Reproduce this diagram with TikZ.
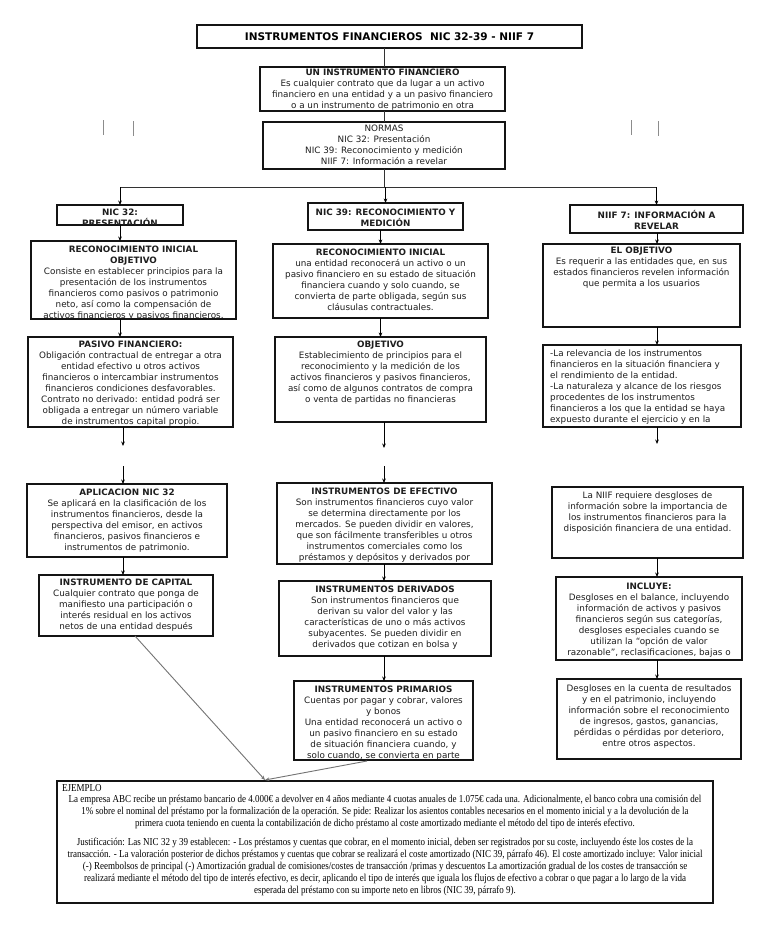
\documentclass[tikz,border=0pt]{standalone}
\usepackage{fontspec}
\setmainfont{DejaVu Sans}
\newfontfamily\exfont[FakeStretch=0.85]{Liberation Serif}
\usetikzlibrary{arrows.meta}
\definecolor{ink}{HTML}{1E1E1E}
\tikzset{
  boxs/.style={draw=black!92, line width=2pt, inner sep=0pt, outer sep=0pt, rectangle},
  txt/.style={inner sep=0pt, align=center, text=ink, font=\fontsize{8.8}{10.9}\selectfont},
  arr/.style={draw=black, -{Stealth[length=4.5pt,width=3.6pt]}, line width=0.8pt},
  ln/.style={draw=black!80, line width=0.8pt},
  tick/.style={draw=black!45, line width=0.8pt},
  gline/.style={draw=black!55, line width=0.9pt, -{Stealth[length=4.5pt,width=3.6pt]}},
}
\newcommand{\mybox}[7]{%
  \node[boxs, minimum width={#4-#2}, minimum height={#5-#3}] (#1) at ({(#2+#4)/2},{(#3+#5)/2}) {};
  \begin{scope}
    \clip ([shift={(1pt,1pt)}]#1.south west) rectangle ([shift={(-1pt,-1pt)}]#1.north east);
    \node[txt, anchor=north] at ({(#2+#4)/2},#6) {#7};
  \end{scope}}
\newcommand{\myboxL}[8]{%
  \node[boxs, minimum width={#4-#2}, minimum height={#5-#3}] (#1) at ({(#2+#4)/2},{(#3+#5)/2}) {};
  \begin{scope}
    \clip ([shift={(1pt,1pt)}]#1.south west) rectangle ([shift={(-1pt,-1pt)}]#1.north east);
    \node[txt, align=left, anchor=north west] at (#6,#7) {#8};
  \end{scope}}
\begin{document}
\begin{tikzpicture}[x=1pt,y=-1pt]
\useasboundingbox[fill=white] (0,0) rectangle (768,932);

% title
\node[boxs, line width=1.3pt, minimum width=385, minimum height=23] (title) at (389.5,36.5) {};
\node[inner sep=0pt, font=\fontsize{10.5}{12}\selectfont\bfseries] at (title.center) {INSTRUMENTOS FINANCIEROS\ \ NIC 32-39 - NIIF 7};

\mybox{inst}{260}{67}{505}{111}{69}{\textbf{UN INSTRUMENTO FINANCIERO}\\Es cualquier contrato que da lugar a un activo\\financiero en una entidad y a un pasivo financiero\\o a un instrumento de patrimonio en otra}
\mybox{normas}{263}{122}{505}{169}{125}{NORMAS\\NIC 32: Presentación\\NIC 39: Reconocimiento y medición\\NIIF 7: Información a revelar}

% column headers
\mybox{nic32}{57}{205}{183}{225}{209}{\textbf{NIC 32:}\\\textbf{PRESENTACIÓN}}
\mybox{nic39}{308}{203}{463}{230}{209}{\textbf{NIC 39: RECONOCIMIENTO Y}\\\textbf{MEDICIÓN}}
\mybox{niif}{570}{205}{743}{233}{210}{\textbf{NIIF 7: INFORMACIÓN A}\\\textbf{REVELAR}}

% left column
\mybox{lA}{31}{241}{236}{319}{246}{\textbf{RECONOCIMIENTO INICIAL}\\\textbf{OBJETIVO}\\Consiste en establecer principios para la\\presentación de los instrumentos\\financieros como pasivos o patrimonio\\neto, así como la compensación de\\activos financieros y pasivos financieros.}
\mybox{lB}{28}{337}{233}{427}{341}{\textbf{PASIVO FINANCIERO:}\\Obligación contractual de entregar a otra\\entidad efectivo u otros activos\\financieros o intercambiar instrumentos\\financieros condiciones desfavorables.\\Contrato no derivado: entidad podrá ser\\obligada a entregar un número variable\\de instrumentos capital propio.}
\mybox{lC}{27}{484}{227}{557}{489}{\textbf{APLICACION NIC 32}\\Se aplicará en la clasificación de los\\instrumentos financieros, desde la\\perspectiva del emisor, en activos\\financieros, pasivos financieros e\\instrumentos de patrimonio.}
\mybox{lD}{39}{575}{213}{636}{579}{\textbf{INSTRUMENTO DE CAPITAL}\\Cualquier contrato que ponga de\\manifiesto una participación o\\interés residual en los activos\\netos de una entidad después}

% middle column
\mybox{mA}{273}{244}{488}{318}{249}{\textbf{RECONOCIMIENTO INICIAL}\\una entidad reconocerá un activo o un\\pasivo financiero en su estado de situación\\financiera cuando y solo cuando, se\\convierta de parte obligada, según sus\\cláusulas contractuales.}
\mybox{mB}{275}{337}{486}{422}{341}{\textbf{OBJETIVO}\\Establecimiento de principios para el\\reconocimiento y la medición de los\\activos financieros y pasivos financieros,\\así como de algunos contratos de compra\\o venta de partidas no financieras}
\mybox{mC}{277}{483}{492}{564}{488}{\textbf{INSTRUMENTOS DE EFECTIVO}\\Son instrumentos financieros cuyo valor\\se determina directamente por los\\mercados. Se pueden dividir en valores,\\que son fácilmente transferibles u otros\\instrumentos comerciales como los\\préstamos y depósitos y derivados por}
\mybox{mD}{279}{581}{491}{656}{586}{\textbf{INSTRUMENTOS DERIVADOS}\\Son instrumentos financieros que\\derivan su valor del valor y las\\características de uno o más activos\\subyacentes. Se pueden dividir en\\derivados que cotizan en bolsa y}
\mybox{mE}{294}{681}{473}{760}{686}{\textbf{INSTRUMENTOS PRIMARIOS}\\Cuentas por pagar y cobrar, valores\\y bonos\\Una entidad reconocerá un activo o\\un pasivo financiero en su estado\\de situación financiera cuando, y\\solo cuando, se convierta en parte}

% right column
\mybox{rA}{543}{244}{740}{327}{247}{\textbf{EL OBJETIVO}\\Es requerir a las entidades que, en sus\\estados financieros revelen información\\que permita a los usuarios}
\myboxL{rB}{543}{345}{741}{427}{550}{350}{-La relevancia de los instrumentos\\financieros en la situación financiera y\\el rendimiento de la entidad.\\-La naturaleza y alcance de los riesgos\\procedentes de los instrumentos\\financieros a los que la entidad se haya\\expuesto durante el ejercicio y en la}
\mybox{rC}{552}{487}{743}{558}{492}{La NIIF requiere desgloses de\\información sobre la importancia de\\los instrumentos financieros para la\\disposición financiera de una entidad.}
\mybox{rD}{556}{577}{742}{660}{583}{\textbf{INCLUYE:}\\Desgloses en el balance, incluyendo\\información de activos y pasivos\\financieros según sus categorías,\\desgloses especiales cuando se\\utilizan la “opción de valor\\razonable”, reclasificaciones, bajas o}
\mybox{rE}{557}{679}{741}{759}{685}{Desgloses en la cuenta de resultados\\y en el patrimonio, incluyendo\\información sobre el reconocimiento\\de ingresos, gastos, ganancias,\\pérdidas o pérdidas por deterioro,\\entre otros aspectos.}

% example
\node[boxs, line width=1.6pt, minimum width=656, minimum height=122] (ej) at (385,842) {};
\node[anchor=north west, inner sep=0pt, text=black, font=\exfont\fontsize{10.6}{12.2}\selectfont] (ejt) at (62,784) {EJEMPLO};
\node[anchor=north, inner sep=0pt, align=center, text=black, font=\exfont\fontsize{10.6}{12.2}\selectfont] (ejb) at (385,795) {La empresa ABC recibe un préstamo bancario de 4.000€ a devolver en 4 años mediante 4 cuotas anuales de 1.075€ cada una. Adicionalmente, el banco cobra una comisión del\\1\% sobre el nominal del préstamo por la formalización de la operación. Se pide: Realizar los asientos contables necesarios en el momento inicial y a la devolución de la\\primera cuota teniendo en cuenta la contabilización de dicho préstamo al coste amortizado mediante el método del tipo de interés efectivo.\\[6pt]Justificación: Las NIC 32 y 39 establecen: - Los préstamos y cuentas que cobrar, en el momento inicial, deben ser registrados por su coste, incluyendo éste los costes de la\\transacción. - La valoración posterior de dichos préstamos y cuentas que cobrar se realizará el coste amortizado (NIC 39, párrafo 46). El coste amortizado incluye: Valor inicial\\(-) Reembolsos de principal (-) Amortización gradual de comisiones/costes de transacción /primas y descuentos La amortización gradual de los costes de transacción se\\realizará mediante el método del tipo de interés efectivo, es decir, aplicando el tipo de interés que iguala los flujos de efectivo a cobrar o que pagar a lo largo de la vida\\esperada del préstamo con su importe neto en libros (NIC 39, párrafo 9).};

% connectors top
\draw[ln] (title.south -| normas.north) -- (inst.north -| normas.north);
\draw[ln] (inst.south -| normas.north) -- (normas.north);
\coordinate (bus) at (384,187);
\draw[ln] (normas.south) -- (bus);
\draw[ln] (nic32.north |- bus) -- (niif.north |- bus);
\draw[arr] (nic32.north |- bus) -- (nic32.north);
\draw[arr] (nic39.north |- bus) -- (nic39.north);
\draw[arr] (niif.north |- bus) -- (niif.north);

% stray connector fragments near the top
\coordinate (t1a) at (103,120); \coordinate (t1b) at (103,135);
\coordinate (t2a) at (133,121); \coordinate (t2b) at (133,136);
\coordinate (t3a) at (631,120); \coordinate (t3b) at (631,135);
\coordinate (t4a) at (658,121); \coordinate (t4b) at (658,136);
\draw[tick] (t1a) -- (t1b);
\draw[tick] (t2a) -- (t2b);
\draw[tick] (t3a) -- (t3b);
\draw[tick] (t4a) -- (t4b);

% left connectors
\draw[arr] (nic32.south) -- (nic32.south |- lA.north);
\draw[arr] (nic32.south |- lA.south) -- (nic32.south |- lB.north);
\coordinate (la1) at (123,446);
\coordinate (la2) at (123,466);
\draw[arr] (la1 |- lB.south) -- (la1);
\draw[arr] (la2) -- (la2 |- lC.north);
\draw[arr] (la2 |- lC.south) -- (la2 |- lD.north);

% middle connectors
\draw[arr] (nic39.south -| mB.north) -- (mA.north -| mB.north);
\draw[arr] (mA.south -| mB.north) -- (mB.north);
\coordinate (ma1) at (384,448);
\coordinate (ma2) at (384,466);
\draw[arr] (ma1 |- mB.south) -- (ma1);
\draw[arr] (ma2) -- (ma2 |- mC.north);
\draw[arr] (ma2 |- mC.south) -- (ma2 |- mD.north);
\draw[arr] (ma2 |- mD.south) -- (ma2 |- mE.north);

% right connectors
\coordinate (ra0) at (657,0);
\draw[arr] (ra0 |- niif.south) -- (ra0 |- rA.north);
\draw[arr] (ra0 |- rA.south) -- (ra0 |- rB.north);
\coordinate (ra1) at (657,444);
\draw[arr] (ra1 |- rB.south) -- (ra1);
\draw[arr] (ra0 |- rC.south) -- (ra0 |- rD.north);
\draw[arr] (ra0 |- rD.south) -- (ra0 |- rE.north);

% to example
\coordinate (ejin) at (265,780);
\coordinate (capout) at (135,636);
\coordinate (priout) at (367,761);
\draw[gline] (capout) -- (ejin);
\draw[gline] (priout) -- (ejin);
\end{tikzpicture}
\end{document}
